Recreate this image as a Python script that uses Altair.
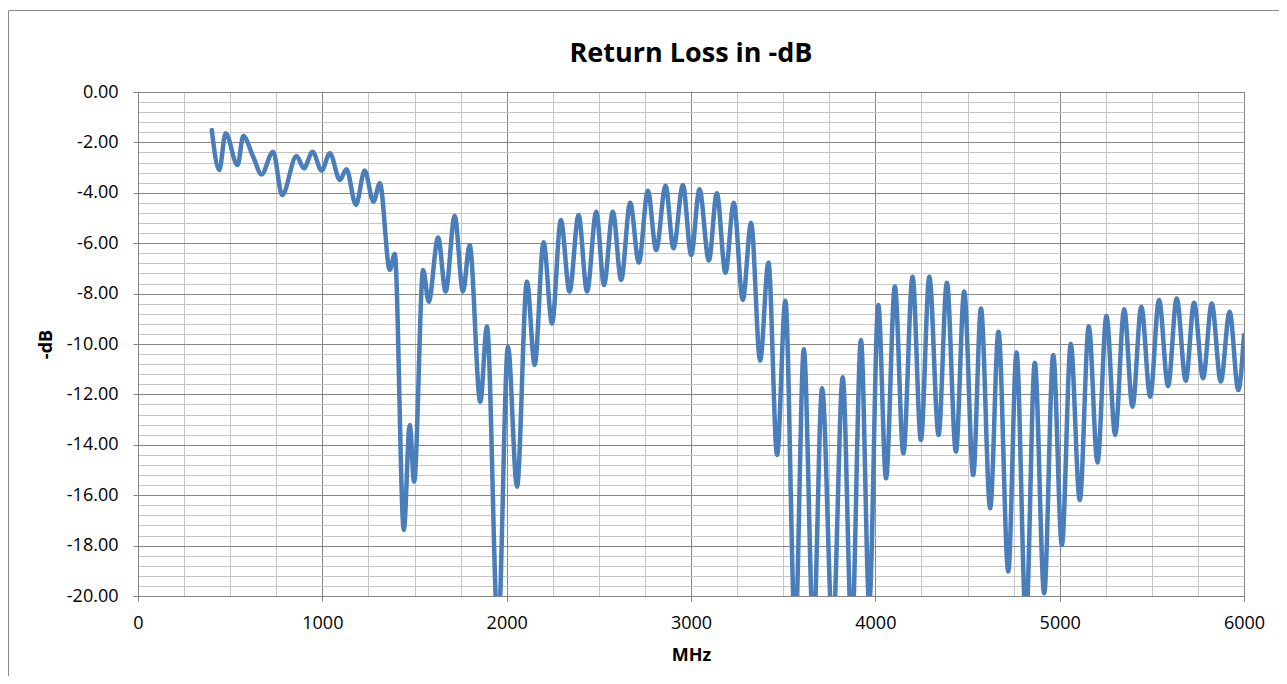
import altair as alt
import pandas as pd

# Frequency (MHz) of each turning point of the trace
freq_mhz = [400, 441, 475, 540, 571, 625, 670, 733, 782, 860, 900, 947, 996, 1041, 1095, 1131,
            1182, 1230, 1277, 1312, 1366, 1393, 1442, 1474, 1498, 1547, 1577, 1628, 1669, 1718,
            1763, 1799, 1857, 1893, 1953, 2007, 2056, 2110, 2152, 2200, 2246, 2294, 2341, 2390,
            2436, 2486, 2528, 2576, 2621, 2670, 2717, 2766, 2811, 2862, 2905, 2956, 3001, 3046,
            3097, 3140, 3187, 3232, 3281, 3326, 3375, 3420, 3467, 3512, 3565, 3612, 3664, 3711,
            3769, 3823, 3872, 3922, 3967, 4016, 4058, 4106, 4152, 4202, 4247, 4293, 4343, 4388,
            4437, 4482, 4531, 4573, 4623, 4668, 4721, 4766, 4817, 4865, 4916, 4965, 5012, 5060,
            5109, 5158, 5205, 5254, 5301, 5350, 5395, 5443, 5491, 5539, 5588, 5635, 5684, 5729,
            5778, 5825, 5874, 5922, 5969, 6000]

# Return loss (-dB) at those points
return_loss_db = [-1.51, -3.10, -1.64, -2.90, -1.75, -2.57, -3.27, -2.37, -4.09, -2.54, -3.03,
                  -2.37, -3.12, -2.43, -3.49, -3.07, -4.48, -3.12, -4.35, -3.62, -7.06, -6.43,
                  -17.38, -13.21, -15.46, -7.06, -8.32, -5.77, -7.92, -4.92, -7.92, -6.07,
                  -12.29, -9.31, -21.5, -10.11, -15.66, -7.53, -10.83, -5.96, -9.19, -5.08,
                  -7.92, -4.88, -7.92, -4.75, -7.66, -4.75, -7.46, -4.39, -6.77, -3.92, -6.27,
                  -3.72, -6.20, -3.69, -6.47, -3.86, -6.69, -4.02, -7.17, -4.39, -8.25, -5.19,
                  -10.66, -6.77, -14.40, -8.28, -21.5, -10.21, -21.5, -11.76, -21.5, -11.32,
                  -21.5, -9.84, -20.3, -8.45, -15.33, -7.72, -14.34, -7.33, -13.81, -7.33,
                  -13.61, -7.57, -14.27, -7.92, -15.20, -8.59, -16.52, -9.51, -19.03, -10.34,
                  -21.0, -10.74, -19.89, -10.44, -17.98, -10.00, -16.19, -9.30, -14.70, -8.89,
                  -13.61, -8.62, -12.49, -8.52, -12.09, -8.25, -11.67, -8.19, -11.46, -8.36,
                  -11.36, -8.39, -11.49, -8.72, -11.83, -9.64]

x_ticks = list(range(0, 6001, 250))
y_ticks = [round(-0.4 * k, 1) + 0.0 for k in range(51)]

df = pd.DataFrame({"MHz": freq_mhz, "dB": return_loss_db})

MAJOR = "#868686"
MINOR = "#c6c6c6"
FONT = "Open Sans"

x_axis = alt.Axis(
    values=x_ticks,
    title="MHz",
    labelExpr="datum.value % 1000 === 0 ? '' + datum.value : ''",
    labelOverlap=False,
    labelFlush=False,
    labelPadding=13,
    titlePadding=14,
    tickSize=5,
    gridColor={"condition": {"test": "datum.value % 1000 === 0", "value": MAJOR}, "value": MINOR},
    tickColor={"condition": {"test": "datum.value % 1000 === 0", "value": MAJOR}, "value": "transparent"},
)

y_axis = alt.Axis(
    values=y_ticks,
    title="-dB",
    labelExpr="abs(round(datum.value * 10)) % 20 === 0 ? replace(format(datum.value, '.2f'), '\u2212', '-') : ''",
    labelOverlap=False,
    labelFlush=False,
    labelPadding=15,
    titlePadding=11,
    tickSize=5,
    gridColor={"condition": {"test": "abs(round(datum.value * 10)) % 20 === 0", "value": MAJOR}, "value": MINOR},
    tickColor={"condition": {"test": "abs(round(datum.value * 10)) % 20 === 0", "value": MAJOR}, "value": "transparent"},
)

line = alt.Chart(df).mark_line(
    color="#4a7ebb", strokeWidth=4.5, interpolate="monotone", clip=True,
    strokeCap="round", strokeJoin="round",
).encode(
    x=alt.X("MHz:Q", scale=alt.Scale(domain=[0, 6000], nice=False, zero=False), axis=x_axis),
    y=alt.Y("dB:Q", scale=alt.Scale(domain=[-20, 0], nice=False), axis=y_axis),
)

border = alt.Chart(alt.Data(values=[{}])).mark_rect(
    fill="white", fillOpacity=0, stroke="#8a8a8a", strokeWidth=1,
).encode(
    x=alt.value(-129.5), x2=alt.value(1300), y=alt.value(-81.5), y2=alt.value(700),
)

chart = alt.layer(border, line).properties(
    width=1106,
    height=504,
    title=alt.TitleParams(
        "Return Loss in -dB", font=FONT, fontSize=27, fontWeight="bold", color="black",
        anchor="middle", frame="group", baseline="alphabetic", offset=-79,
    ),
    autosize=alt.AutoSizeParams(type="none"),
    padding={"left": 130, "top": 84, "right": 35, "bottom": 80},
).configure_axis(
    labelFont=FONT, titleFont=FONT, labelFontSize=18, titleFontSize=18,
    labelColor="black", titleColor="black", titleFontWeight="bold",
    domainColor=MAJOR, domainWidth=1, gridWidth=1,
).configure_view(stroke=MAJOR)

chart.save("out.html", embed_options={"renderer": "svg", "actions": False})
